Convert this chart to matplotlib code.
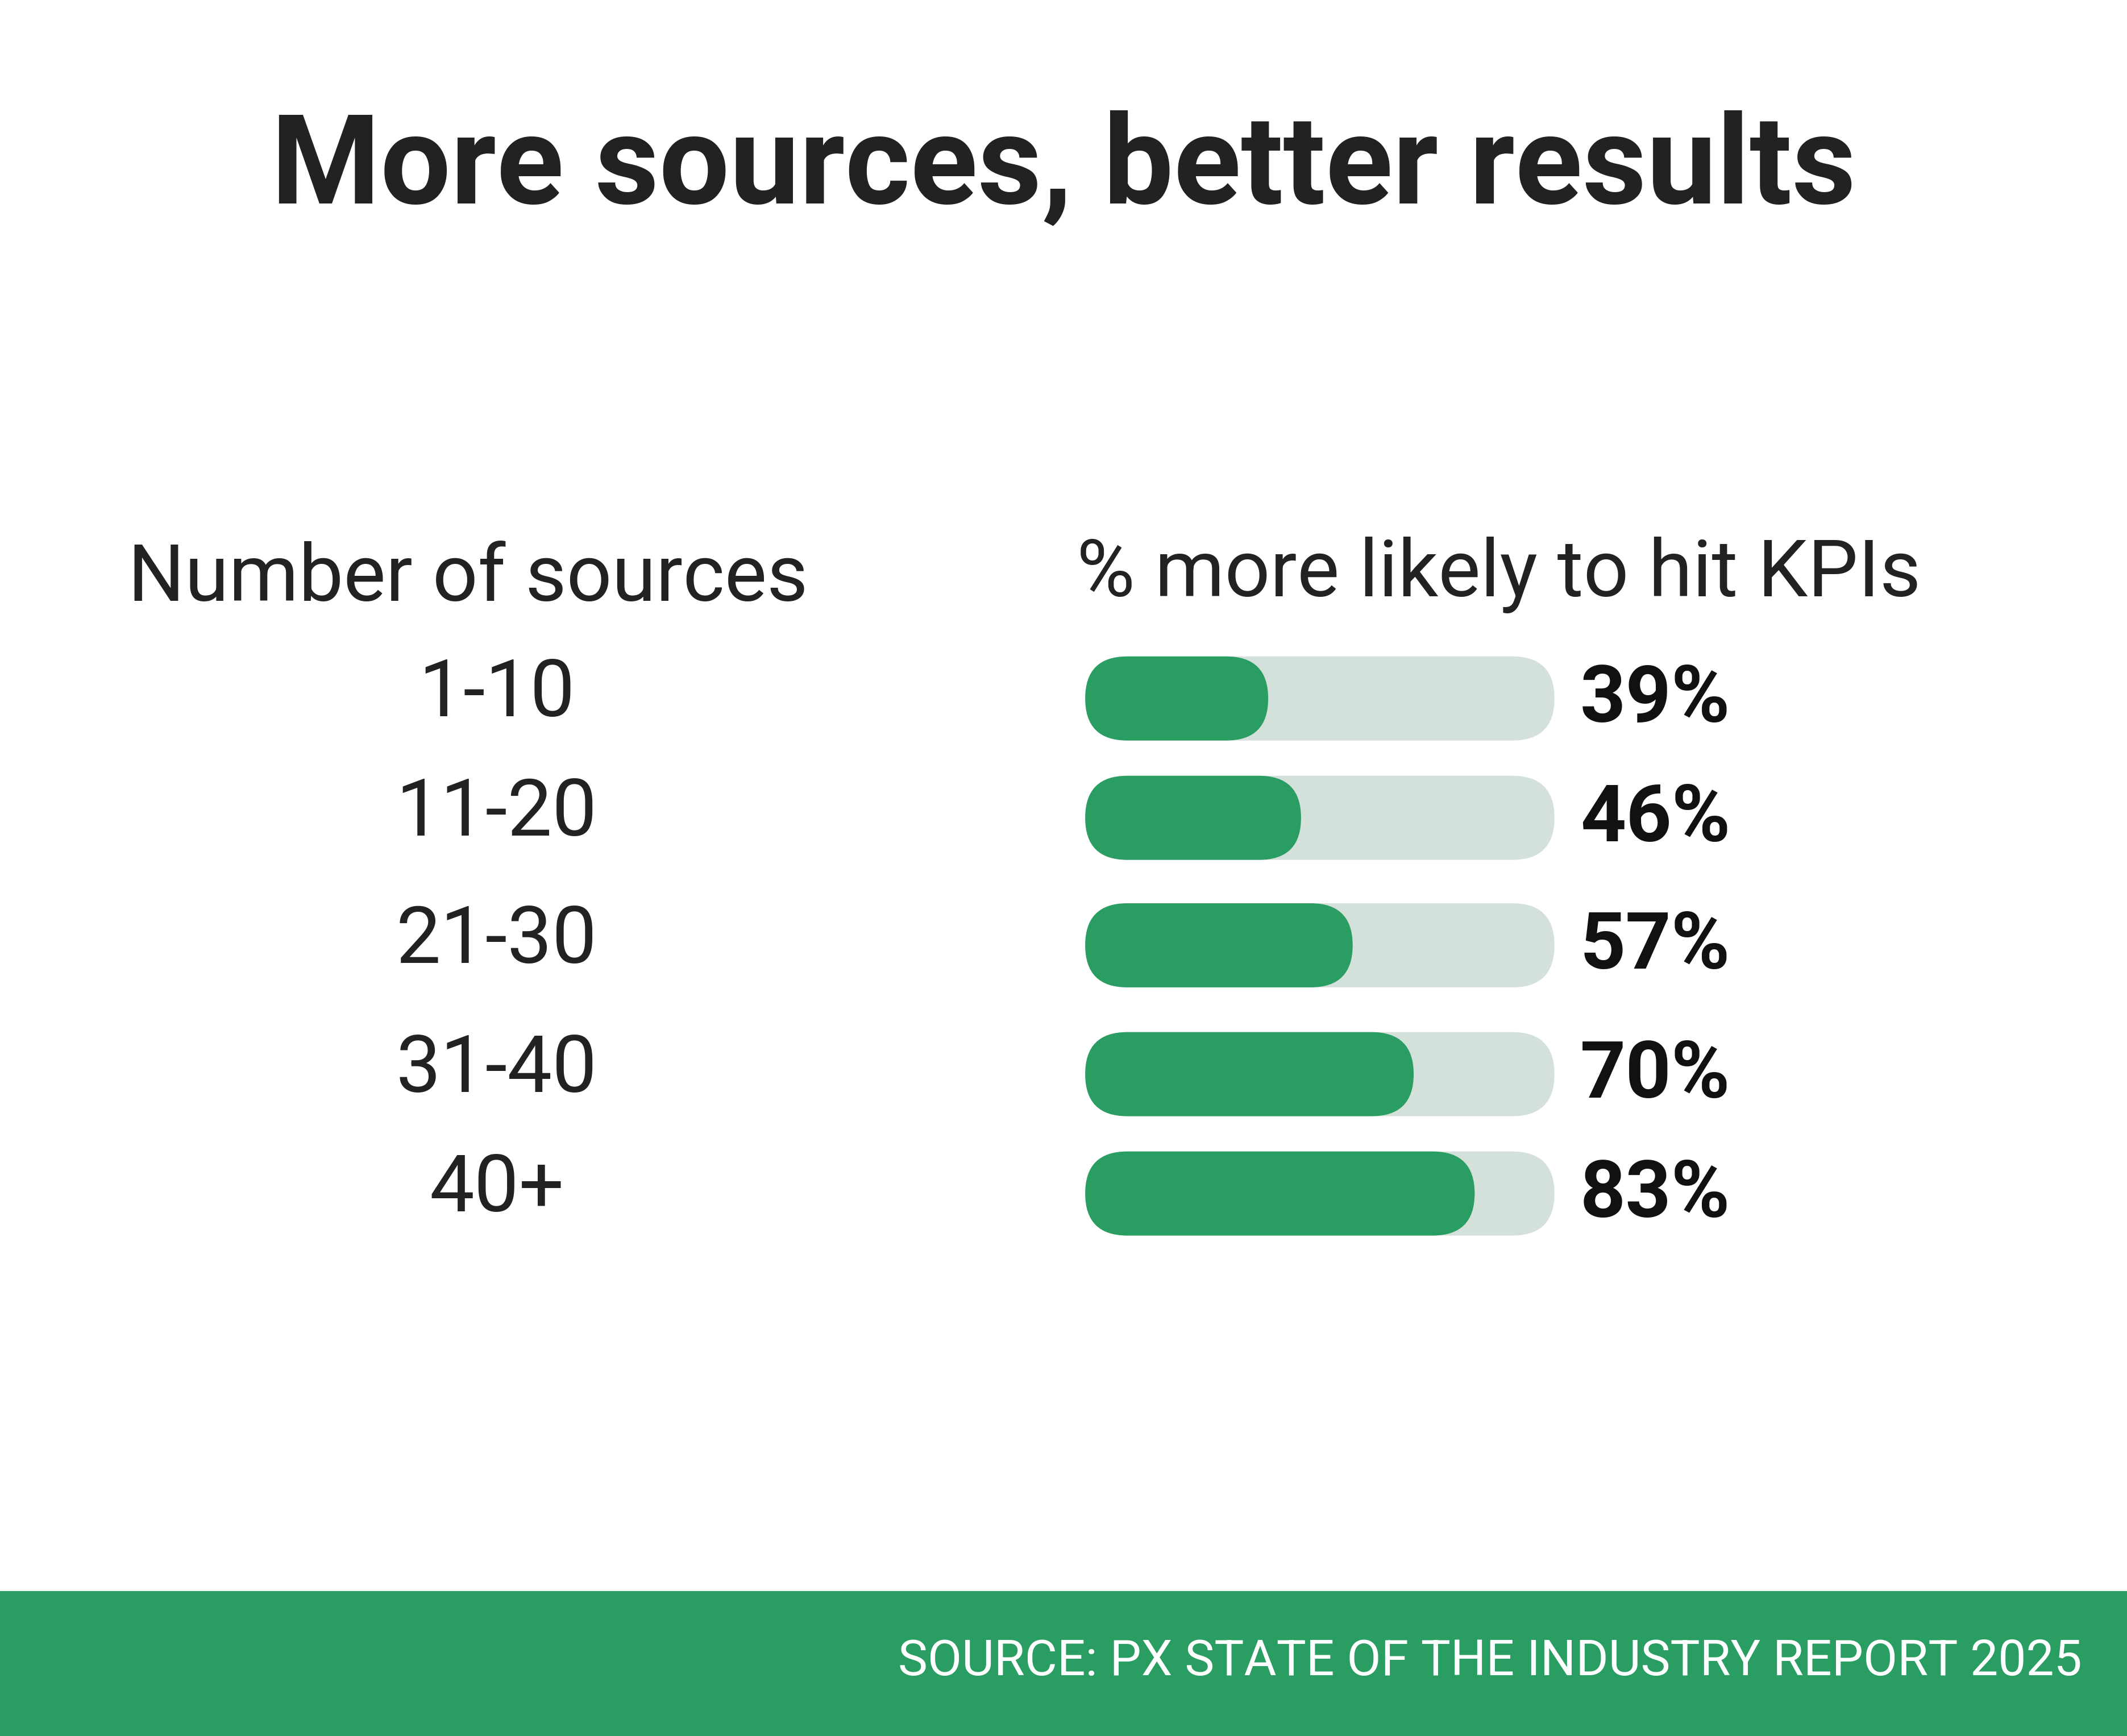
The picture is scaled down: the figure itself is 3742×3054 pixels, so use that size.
import matplotlib
matplotlib.use("Agg")
import matplotlib.pyplot as plt
from matplotlib.patches import FancyBboxPatch, Rectangle

categories = ["1-10", "11-20", "21-30", "31-40", "40+"]
values = [39, 46, 57, 70, 83]
row_y = [515, 603, 697, 792, 880]

GREEN = "#2a9d62"
TRACK = "#d4e0da"
TXT = "#222222"
FONT = "Roboto"

fig = plt.figure(figsize=(37.42, 30.54), dpi=100)
ax = fig.add_axes([0, 0, 1, 1])
ax.set_xlim(0, 1568)
ax.set_ylim(1280, 0)
ax.set_aspect("equal")
ax.axis("off")

ax.text(784, 125, "More sources, better results", ha="center", va="center",
        fontsize=158, fontweight="bold", color=TXT, family=FONT)
ax.text(345, 427, "Number of sources", ha="center", va="center",
        fontsize=101, color=TXT, family=FONT)
ax.text(1105, 424, "% more likely to hit KPIs", ha="center", va="center",
        fontsize=101, color=TXT, family=FONT)

x0, full, h = 800, 346, 62
for cat, v, y in zip(categories, values, row_y):
    ax.text(366, y - 3, cat, ha="center", va="center", fontsize=101, color=TXT, family=FONT)
    ax.add_patch(FancyBboxPatch((x0, y - h / 2), full, h,
                                boxstyle=f"round,pad=0,rounding_size={h/2}",
                                fc=TRACK, ec="none"))
    ax.add_patch(FancyBboxPatch((x0, y - h / 2), full * v / 100, h,
                                boxstyle=f"round,pad=0,rounding_size={h/2}",
                                fc=GREEN, ec="none"))
    ax.text(1165, y + 1, f"{v}%", ha="left", va="center", fontsize=101,
            fontweight="bold", color="#111111", family=FONT)

ax.add_patch(Rectangle((0, 1173), 1568, 107, fc=GREEN, ec="none"))
ax.text(1535, 1225, "SOURCE: PX STATE OF THE INDUSTRY REPORT 2025", ha="right",
        va="center", fontsize=63, color="white", family=FONT)

fig.savefig("out.png", dpi=100, facecolor="white")
